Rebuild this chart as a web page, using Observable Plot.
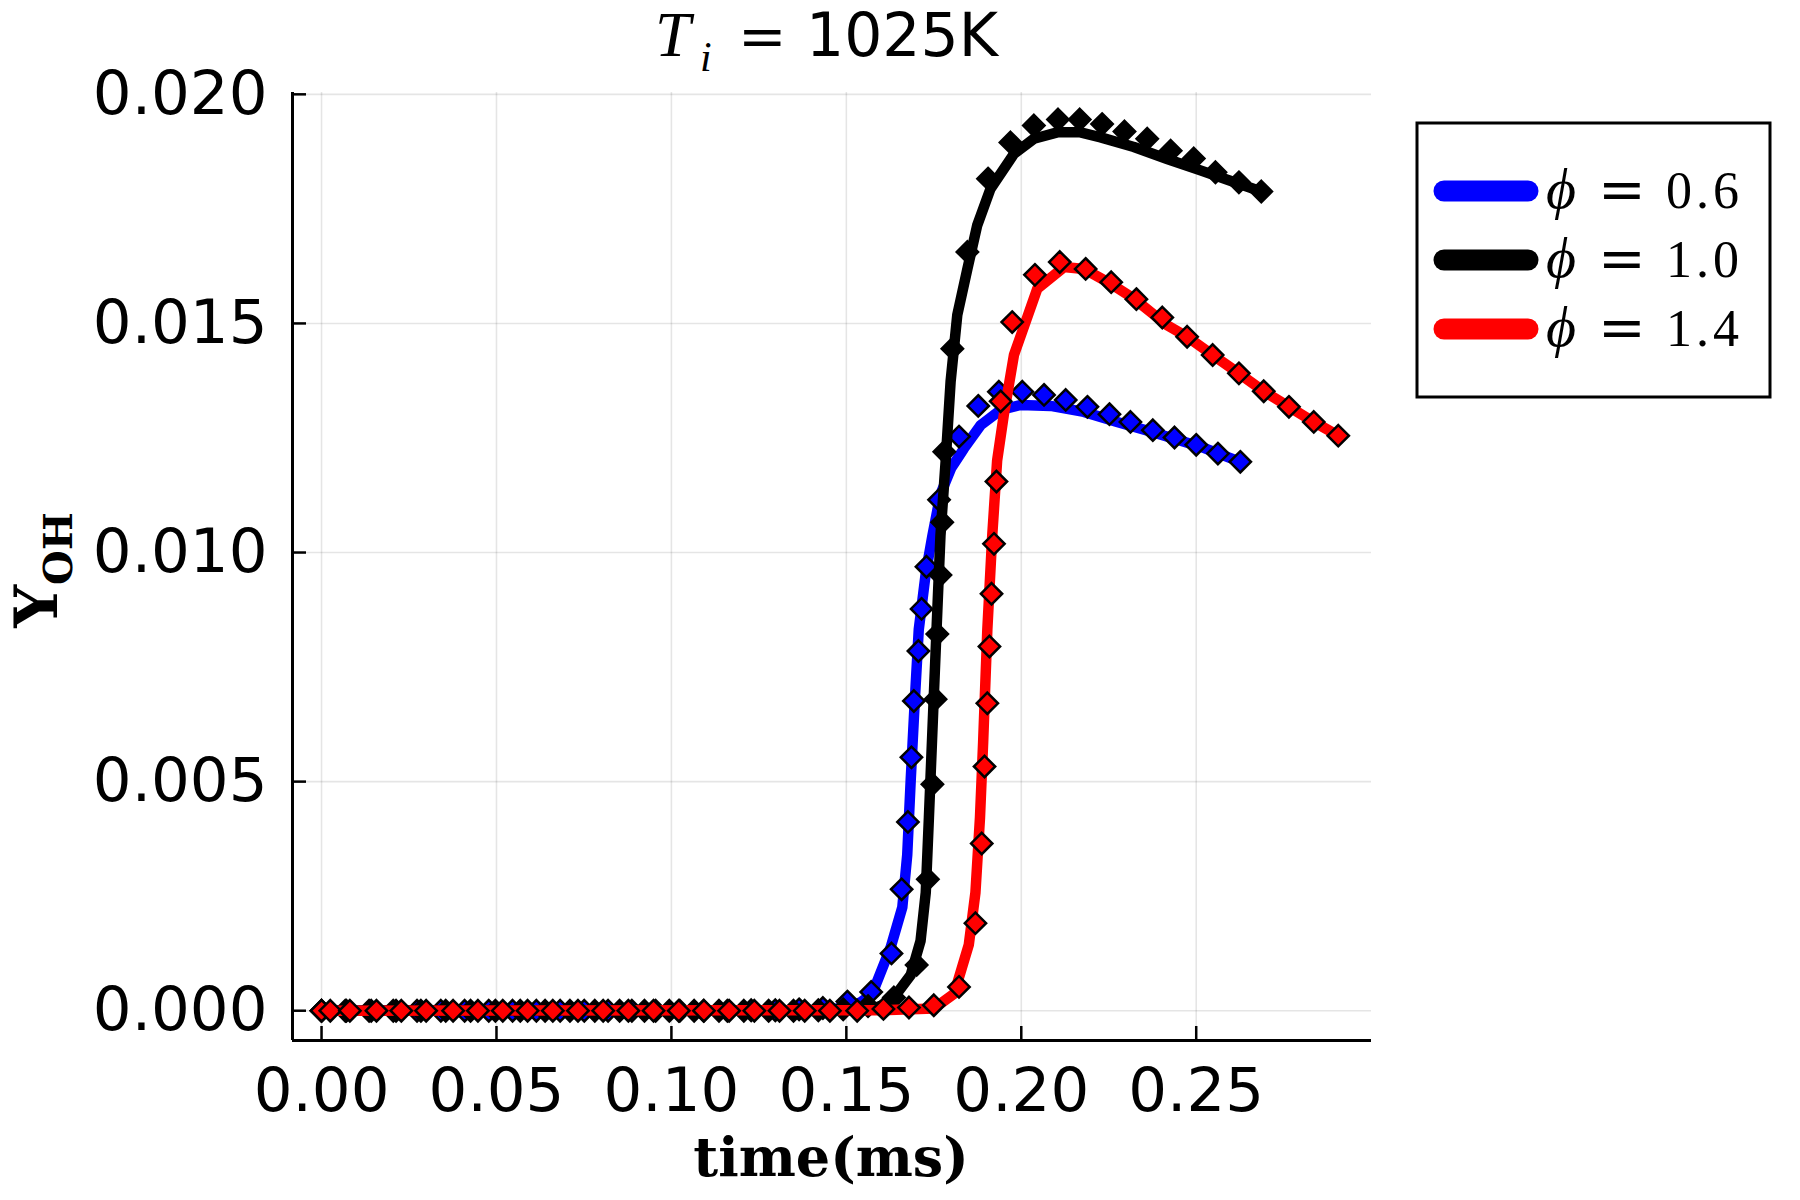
<!DOCTYPE html>
<html><head><meta charset="utf-8">
<script src="https://cdn.jsdelivr.net/npm/d3@7"></script>
<script src="https://cdn.jsdelivr.net/npm/@observablehq/plot@0.6"></script>
<style>body{margin:0;background:#fff;} svg{display:block}</style>
</head><body><div id="chart"></div>
<script>
// ---- data (time in ms, Y_OH mass fraction) ----
const phiValues = ["0.6", "1.0", "1.4"];
const seriesColors = ["#0000ff", "#000000", "#ff0000"];
const xTicks = [0, 0.05, 0.10, 0.15, 0.20, 0.25];
const yTicks = [0, 0.005, 0.010, 0.015, 0.020];

const blueLine = [[0,0],[0.140,0.00001],[0.1500,0.00006],[0.1540,0.00018],[0.1574,0.00037],[0.1627,0.00139],[0.1660,0.00226],[0.1674,0.00340],[0.1684,0.00504],[0.1695,0.00668],[0.1707,0.00832],[0.1727,0.00955],[0.1746,0.01037],[0.1769,0.01127],[0.1800,0.01185],[0.1836,0.01227],[0.1884,0.01278],[0.1941,0.01311],[0.1998,0.01322],[0.2084,0.01320],[0.2179,0.01307],[0.2274,0.01285],[0.2369,0.01264],[0.2512,0.01231],[0.2626,0.01198]];
const blackLine = [[0,0],[0.150,0.00001],[0.1580,0.00005],[0.1627,0.00020],[0.1684,0.00078],[0.1712,0.00152],[0.1727,0.00258],[0.1736,0.00422],[0.1749,0.00668],[0.1760,0.00873],[0.1769,0.01037],[0.1784,0.01201],[0.1798,0.01373],[0.1817,0.01518],[0.1846,0.01619],[0.1874,0.01714],[0.1912,0.01794],[0.1979,0.01870],[0.2036,0.01903],[0.2103,0.01917],[0.2169,0.01917],[0.2227,0.01906],[0.2322,0.01885],[0.2417,0.01859],[0.2512,0.01834],[0.2622,0.01805],[0.2686,0.01788]];
const redLine = [[0,0],[0.160,0.00001],[0.1750,0.00005],[0.1808,0.00037],[0.1850,0.00144],[0.1869,0.00258],[0.1882,0.00422],[0.1891,0.00586],[0.1903,0.00832],[0.1917,0.01037],[0.1931,0.01201],[0.1950,0.01300],[0.1979,0.01431],[0.2046,0.01576],[0.2122,0.01623],[0.2179,0.01619],[0.2255,0.01587],[0.2322,0.01554],[0.2417,0.01496],[0.2474,0.01471],[0.2547,0.01431],[0.2622,0.01391],[0.2693,0.01352],[0.2765,0.01318],[0.2836,0.01285],[0.2906,0.01255]];

const blueMarkers = [[0,0],[0.0068,0],[0.0136,0],[0.0205,0],[0.0273,0],[0.0341,0],[0.0409,0],[0.0478,0],[0.0546,0],[0.0614,0],[0.0682,0],[0.0751,0],[0.0819,0],[0.0887,0],[0.0955,0],[0.1024,0],[0.1092,0],[0.1160,0],[0.1228,0.00001],[0.1297,0.00001],[0.1365,0.00003],[0.1433,0.00006],[0.1503,0.00020],[0.1571,0.00041],[0.1629,0.00125],[0.1658,0.00265],[0.1676,0.00412],[0.1686,0.00553],[0.1693,0.00676],[0.1706,0.00785],[0.1715,0.00877],[0.1729,0.00969],[0.1765,0.01115],[0.1822,0.01253],[0.1877,0.01320],[0.1936,0.01351],[0.2003,0.01351],[0.2065,0.01344],[0.2127,0.01333],[0.2189,0.01318],[0.2252,0.01302],[0.2312,0.01285],[0.2376,0.01267],[0.2438,0.01251],[0.2500,0.01235],[0.2562,0.01216],[0.2626,0.01198]];
const blackMarkers = [[0,0],[0.0071,0],[0.0142,0],[0.0213,0],[0.0284,0],[0.0355,0],[0.0426,0],[0.0497,0],[0.0568,0],[0.0639,0],[0.0710,0],[0.0781,0],[0.0852,0],[0.0923,0],[0.0994,0],[0.1065,0],[0.1136,0],[0.1207,0],[0.1278,0],[0.1349,0],[0.1420,0.00001],[0.1491,0.00003],[0.1562,0.00010],[0.1636,0.00029],[0.1701,0.00100],[0.1733,0.00287],[0.1746,0.00494],[0.1755,0.00680],[0.1760,0.00822],[0.1769,0.00951],[0.1774,0.01066],[0.1780,0.01220],[0.1803,0.01445],[0.1846,0.01656],[0.1905,0.01816],[0.1969,0.01895],[0.2036,0.01932],[0.2105,0.01945],[0.2167,0.01945],[0.2231,0.01935],[0.2295,0.01919],[0.2360,0.01903],[0.2427,0.01877],[0.2493,0.01860],[0.2555,0.01830],[0.2622,0.01808],[0.2686,0.01788]];
const redMarkers = [[0,0],[0.0025,0],[0.0081,0],[0.0157,0],[0.0228,0],[0.0299,0],[0.0376,0],[0.0447,0],[0.0518,0],[0.0589,0],[0.0661,0],[0.0733,0],[0.0805,0],[0.0877,0],[0.0949,0],[0.1021,0],[0.1093,0],[0.1165,0],[0.1237,0],[0.1309,0],[0.1381,0],[0.1453,0],[0.1531,0],[0.1606,0.00004],[0.1679,0.00007],[0.1750,0.00012],[0.1822,0.00052],[0.1869,0.00191],[0.1887,0.00365],[0.1895,0.00533],[0.1903,0.00671],[0.1909,0.00795],[0.1915,0.00910],[0.1922,0.01019],[0.1929,0.01155],[0.1941,0.01330],[0.1974,0.01503],[0.2039,0.01606],[0.2110,0.01634],[0.2184,0.01619],[0.2257,0.01590],[0.2329,0.01553],[0.2403,0.01513],[0.2474,0.01471],[0.2547,0.01431],[0.2622,0.01391],[0.2693,0.01352],[0.2765,0.01318],[0.2836,0.01285],[0.2906,0.01255]];

const xDomain = [-0.0083, 0.3001];
const yDomain = [-0.00065, 0.02004];

// ---- layout ----
const W = 1800, H = 1200;
const mL = 292, mR = 429, mT = 92, mB = 160;
const tickLen = 14;

const diamond = {
  draw(ctx, size) {
    const r = Math.sqrt(size / 2);
    ctx.moveTo(0, -r); ctx.lineTo(r, 0); ctx.lineTo(0, r); ctx.lineTo(-r, 0); ctx.closePath();
  }
};

const lines = [blueLine, blackLine, redLine];
const markers = [blueMarkers, blackMarkers, redMarkers];
const seriesMarks = [];
lines.forEach((ln, i) => {
  seriesMarks.push(Plot.line(ln, {x: d => d[0], y: d => d[1], stroke: seriesColors[i], strokeWidth: 10.5, strokeLinejoin: "round", strokeLinecap: "round"}));
  seriesMarks.push(Plot.dot(markers[i], {x: d => d[0], y: d => d[1], fill: seriesColors[i], stroke: "#000", strokeWidth: 2.5, r: 8.5, symbol: diamond}));
});

const chart = Plot.plot({
  width: W, height: H,
  marginLeft: mL, marginRight: mR, marginTop: mT, marginBottom: mB,
  style: {fontFamily: "DejaVu Sans", fontSize: "61px", background: "#fff", color: "#000"},
  x: {domain: xDomain, label: null},
  y: {domain: yDomain, label: null},
  marks: [
    Plot.gridX(xTicks, {stroke: "#000", strokeOpacity: 0.1, strokeWidth: 1.6}),
    Plot.gridY(yTicks, {stroke: "#000", strokeOpacity: 0.1, strokeWidth: 1.6}),
    ...seriesMarks,
    Plot.ruleX([xDomain[0]], {stroke: "#000", strokeWidth: 3}),
    Plot.ruleY([yDomain[0]], {stroke: "#000", strokeWidth: 3}),
    Plot.tickX(xTicks, {x: d => d, stroke: "#000", strokeWidth: 2.5, insetTop: (H - mT - mB) - tickLen}),
    Plot.tickY(yTicks, {y: d => d, stroke: "#000", strokeWidth: 2.5, insetRight: (W - mL - mR) - tickLen}),
    Plot.axisX(xTicks, {tickSize: 0, tickPadding: 27, tickFormat: d3.format(".2f"), label: null, fontSize: 61}),
    Plot.axisY(yTicks, {tickSize: 0, tickPadding: 25, tickFormat: d3.format(".3f"), label: null, fontSize: 61})
  ]
});
document.getElementById("chart").appendChild(chart);

const svg = d3.select(chart);

// title: T_i = 1025K
const title = svg.append("text").attr("y", 56).attr("fill", "#000").attr("text-anchor", "start");
title.append("tspan").attr("x", 655).style("font-family", "Liberation Serif").style("font-style", "italic").style("font-size", "64px").text("T");
title.append("tspan").attr("x", 700).attr("dy", 15).style("font-family", "Liberation Serif").style("font-style", "italic").style("font-size", "42px").text("i");
title.append("tspan").attr("x", 738).attr("dy", -15).style("font-family", "DejaVu Serif").style("font-size", "58px").text("=");
title.append("tspan").attr("x", 806).style("font-family", "DejaVu Sans").style("font-size", "60px").text("1025K");

// axis labels
svg.append("text").attr("x", 831).attr("y", 1176).attr("text-anchor", "middle")
  .style("font-family", "DejaVu Serif").style("font-weight", "bold").style("font-size", "54px").text("time(ms)");
const yl = svg.append("text").attr("transform", "translate(57,570) rotate(-90)").attr("text-anchor", "middle")
  .style("font-family", "DejaVu Serif").style("font-weight", "bold");
yl.append("tspan").style("font-size", "60px").text("Y");
yl.append("tspan").attr("dy", 15).style("font-size", "40px").text("OH");

// legend
const lg = svg.append("g").attr("text-anchor", "start");
lg.append("rect").attr("x", 1417).attr("y", 123).attr("width", 353).attr("height", 274)
  .attr("fill", "#fff").attr("stroke", "#000").attr("stroke-width", 3);
phiValues.forEach((v, i) => {
  const yy = 191 + i * 69;
  lg.append("line").attr("x1", 1444).attr("x2", 1528).attr("y1", yy).attr("y2", yy)
    .attr("stroke", seriesColors[i]).attr("stroke-width", 21).attr("stroke-linecap", "round");
  lg.append("text").attr("x", 1546).attr("y", yy + 17).attr("text-anchor", "start").style("font-family", "Liberation Serif").style("font-style", "italic").style("font-size", "58px").text("ϕ");
  lg.append("text").attr("x", 1598).attr("y", yy + 18).attr("text-anchor", "start").style("font-family", "DejaVu Serif").style("font-size", "57px").text("=");
  lg.append("text").attr("x", 1666).attr("y", yy + 17).attr("text-anchor", "start").style("font-family", "Liberation Serif").style("font-size", "52px").style("letter-spacing", "4px").text(v);
});
</script>
</body></html>
